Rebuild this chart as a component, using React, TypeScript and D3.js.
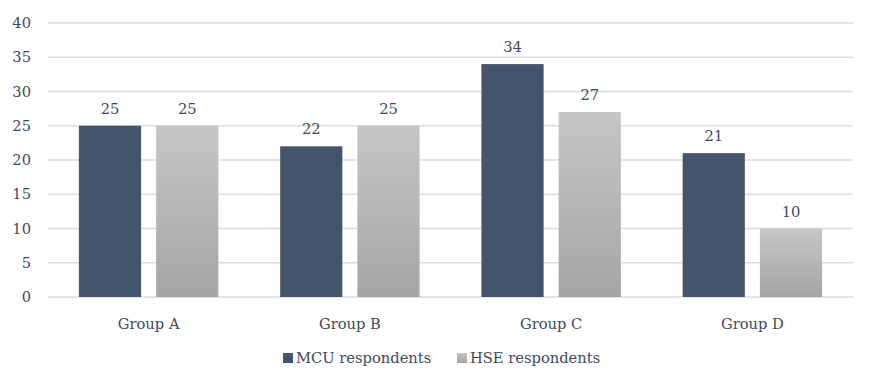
import * as d3 from 'd3';
import { useEffect, useRef } from 'react';

// chart data
const groups = ['Group A', 'Group B', 'Group C', 'Group D'];
const seriesNames = ['MCU respondents', 'HSE respondents'];
const mcuValues = [25, 22, 34, 21];
const hseValues = [25, 25, 27, 10];
const yTicks = [0, 5, 10, 15, 20, 25, 30, 35, 40];

const width = 876;
const height = 389;
const margin = { top: 23, right: 23, bottom: 92, left: 48 };
const textColor = '#3f4a5a';
// only DejaVu Serif is available as a serif face, so shrink it to Times-like widths
const font = '"DejaVu Serif", serif';
const fontSize = 14.7;

function App() {
    const svgRef = useRef<SVGSVGElement>(null);

    useEffect(() => {
        const svg = d3.select(svgRef.current);
        svg.selectAll('*').remove();

        const plotW = width - margin.left - margin.right;
        const plotH = height - margin.top - margin.bottom;

        const x = d3.scaleBand().domain(groups).range([0, plotW]).padding(0);
        const xSeries = d3.scaleBand().domain(seriesNames).range([0, x.bandwidth()])
            .paddingInner(0.195).paddingOuter(0.4);
        const y = d3.scaleLinear().domain([0, 40]).range([plotH, 0]);

        // gradient for the light series
        const defs = svg.append('defs');
        const grad = defs.append('linearGradient').attr('id', 'hseGrad')
            .attr('x1', 0).attr('y1', 0).attr('x2', 0).attr('y2', 1);
        grad.append('stop').attr('offset', '0%').attr('stop-color', '#c6c6c6');
        grad.append('stop').attr('offset', '100%').attr('stop-color', '#a5a5a5');

        const fills = ['#44546a', 'url(#hseGrad)'];
        const rows = groups.map((g, i) => ({ group: g, values: [mcuValues[i], hseValues[i]] }));

        const g = svg.append('g').attr('transform', `translate(${margin.left},${margin.top})`);

        // gridlines + y labels
        g.selectAll('.grid').data(yTicks).enter().append('line')
            .attr('x1', 0).attr('x2', plotW)
            .attr('y1', d => y(d)).attr('y2', d => y(d))
            .attr('stroke', '#d9dde2').attr('stroke-width', 1.5);
        g.selectAll('.ylab').data(yTicks).enter().append('text')
            .attr('x', -17).attr('y', d => y(d)).attr('dy', '0.35em')
            .attr('text-anchor', 'end').attr('font-size', fontSize)
            .style('font-family', font).attr('fill', textColor)
            .text(d => d);

        // bars
        const grp = g.selectAll('.grp').data(rows).enter().append('g')
            .attr('transform', d => `translate(${x(d.group)},0)`);
        grp.selectAll('rect').data(d => d.values).enter().append('rect')
            .attr('x', (d, i) => xSeries(seriesNames[i]) as number)
            .attr('width', xSeries.bandwidth())
            .attr('y', d => y(d))
            .attr('height', d => plotH - y(d))
            .attr('fill', (d, i) => fills[i]);
        grp.selectAll('.val').data(d => d.values).enter().append('text')
            .attr('x', (d, i) => (xSeries(seriesNames[i]) as number) + xSeries.bandwidth() / 2)
            .attr('y', d => y(d) - 12)
            .attr('text-anchor', 'middle').attr('font-size', fontSize)
            .style('font-family', font).attr('fill', textColor)
            .text(d => d);

        // x labels
        g.selectAll('.xlab').data(groups).enter().append('text')
            .attr('x', d => (x(d) as number) + x.bandwidth() / 2)
            .attr('y', plotH + 32)
            .attr('text-anchor', 'middle').attr('font-size', fontSize)
            .style('font-family', font).attr('fill', textColor)
            .text(d => d);

        // legend
        const legendX = [283, 457];
        const legend = svg.append('g').attr('transform', 'translate(0,358)');
        seriesNames.forEach((s, i) => {
            legend.append('rect').attr('x', legendX[i]).attr('y', -5)
                .attr('width', 10).attr('height', 10).attr('fill', fills[i]);
            legend.append('text').attr('x', legendX[i] + 13).attr('y', 0).attr('dy', '0.35em')
                .attr('font-size', fontSize).style('font-family', font).attr('fill', textColor)
                .text(s);
        });
    }, []);

    return <svg ref={svgRef} width={width} height={height}
        style={{ position: 'absolute', left: 0, top: 0, background: '#fff' }} />;
}

export default App;
